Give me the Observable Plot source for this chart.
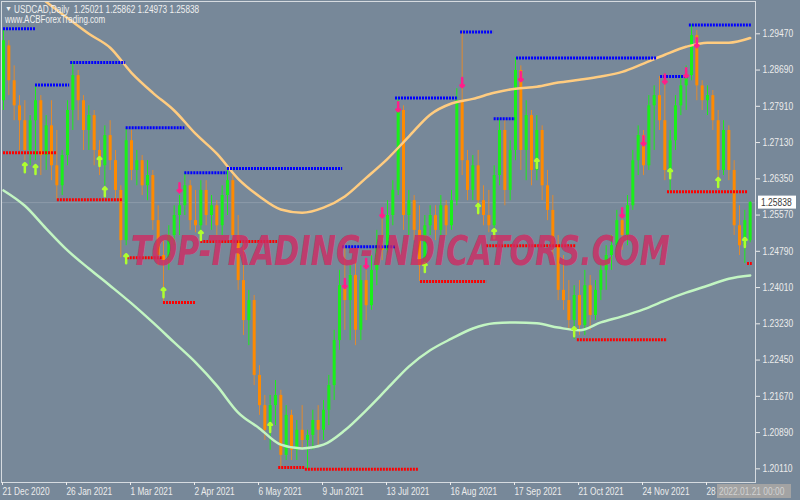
<!DOCTYPE html>
<html><head><meta charset="utf-8">
<script src="https://cdn.jsdelivr.net/npm/d3@7"></script>
<script src="https://cdn.jsdelivr.net/npm/@observablehq/plot@0.6"></script>
<style>html,body{margin:0;padding:0;background:#778899;overflow:hidden}#chart{width:800px;height:500px}</style>
</head><body><div id="chart"></div>
<script>
// Daily USDCAD candles (bar index = array index)
const openP = [
1.2803,1.2921,1.2846,1.2792,1.2760,1.2696,1.2760,1.2803,1.2685,1.2749,
1.2663,1.2620,1.2685,1.2782,1.2857,1.2803,1.2739,1.2771,1.2696,1.2663,
1.2728,1.2674,1.2610,1.2502,1.2717,1.2653,1.2674,1.2620,1.2642,1.2545,
1.2470,1.2459,1.2513,1.2556,1.2577,1.2620,1.2545,1.2534,1.2610,1.2556,
1.2577,1.2534,1.2599,1.2631,1.2513,1.2416,1.2330,1.2373,1.2212,1.2147,
1.2094,1.2147,1.2169,1.2040,1.2126,1.2051,1.2094,1.2072,1.2083,1.2115,
1.2094,1.2137,1.2190,1.2287,1.2405,1.2373,1.2427,1.2309,1.2416,1.2362,
1.2438,1.2491,1.2481,1.2556,1.2610,1.2782,1.2556,1.2588,1.2524,1.2448,
1.2534,1.2556,1.2524,1.2577,1.2534,1.2588,1.2803,1.2674,1.2610,1.2663,
1.2588,1.2556,1.2534,1.2642,1.2739,1.2610,1.2696,1.2868,1.2696,1.2771,
1.2653,1.2739,1.2620,1.2567,1.2491,1.2395,1.2373,1.2330,1.2384,1.2319,
1.2405,1.2341,1.2395,1.2438,1.2470,1.2491,1.2545,1.2513,1.2577,1.2674,
1.2728,1.2663,1.2792,1.2814,1.2760,1.2653,1.2717,1.2792,1.2835,1.2857,
1.2943,1.2835,1.2803,1.2814,1.2760,1.2653,1.2739,1.2653,1.2534,1.2491,
1.25021];
const highP = [
1.2958,1.2932,1.2878,1.2814,1.2803,1.2771,1.2835,1.2814,1.2771,1.2803,
1.2739,1.2696,1.2803,1.2885,1.2868,1.2814,1.2792,1.2782,1.2717,1.2749,
1.2760,1.2696,1.2620,1.2743,1.2739,1.2696,1.2685,1.2674,1.2653,1.2577,
1.2502,1.2534,1.2577,1.2599,1.2648,1.2631,1.2610,1.2631,1.2631,1.2599,
1.2588,1.2620,1.2657,1.2642,1.2556,1.2502,1.2395,1.2384,1.2233,1.2169,
1.2169,1.2201,1.2180,1.2147,1.2137,1.2115,1.2147,1.2094,1.2137,1.2147,
1.2158,1.2212,1.2309,1.2438,1.2489,1.2448,1.2459,1.2448,1.2438,1.2470,
1.2524,1.2549,1.2588,1.2631,1.2809,1.2792,1.2610,1.2599,1.2577,1.2556,
1.2577,1.2577,1.2599,1.2588,1.2610,1.2829,1.2951,1.2696,1.2685,1.2696,
1.2620,1.2610,1.2663,1.2764,1.2760,1.2717,1.2895,1.2878,1.2803,1.2782,
1.2771,1.2749,1.2653,1.2599,1.2513,1.2470,1.2416,1.2405,1.2416,1.2438,
1.2427,1.2416,1.2459,1.2491,1.2513,1.2567,1.2556,1.2599,1.2696,1.2749,
1.2739,1.2814,1.2835,1.2855,1.2840,1.2739,1.2814,1.2857,1.2878,1.2966,
1.2954,1.2846,1.2835,1.2825,1.2782,1.2760,1.2749,1.2674,1.2577,1.2567,
1.25862];
const lowP = [
1.2782,1.2814,1.2760,1.2696,1.2674,1.2663,1.2674,1.2642,1.2653,1.2631,
1.2590,1.2599,1.2663,1.2739,1.2760,1.2696,1.2696,1.2663,1.2642,1.2620,
1.2653,1.2588,1.2465,1.2491,1.2631,1.2620,1.2599,1.2588,1.2524,1.2448,
1.2369,1.2438,1.2491,1.2513,1.2556,1.2524,1.2519,1.2500,1.2534,1.2524,
1.2513,1.2513,1.2556,1.2481,1.2395,1.2298,1.2276,1.2190,1.2126,1.2072,
1.2051,1.2104,1.2014,1.2029,1.2029,1.2029,1.2051,1.2010,1.2051,1.2061,
1.2072,1.2104,1.2158,1.2266,1.2309,1.2287,1.2276,1.2287,1.2330,1.2352,
1.2405,1.2459,1.2470,1.2534,1.2599,1.2524,1.2513,1.2502,1.2414,1.2438,
1.2513,1.2502,1.2513,1.2513,1.2524,1.2577,1.2642,1.2588,1.2588,1.2556,
1.2534,1.2519,1.2519,1.2620,1.2577,1.2588,1.2674,1.2653,1.2631,1.2620,
1.2631,1.2588,1.2545,1.2470,1.2373,1.2352,1.2309,1.2289,1.2298,1.2298,
1.2309,1.2330,1.2373,1.2395,1.2438,1.2470,1.2481,1.2491,1.2567,1.2642,
1.2642,1.2653,1.2696,1.2739,1.2631,1.2607,1.2696,1.2771,1.2782,1.2846,
1.2803,1.2782,1.2771,1.2739,1.2620,1.2642,1.2631,1.2513,1.2470,1.2453,
1.24973];
const closeP = [
1.2932,1.2846,1.2792,1.2760,1.2696,1.2760,1.2803,1.2685,1.2749,1.2663,
1.2620,1.2685,1.2782,1.2857,1.2803,1.2739,1.2771,1.2696,1.2663,1.2728,
1.2674,1.2610,1.2502,1.2717,1.2653,1.2674,1.2620,1.2642,1.2545,1.2470,
1.2459,1.2513,1.2556,1.2577,1.2620,1.2545,1.2534,1.2610,1.2556,1.2577,
1.2534,1.2599,1.2631,1.2513,1.2416,1.2330,1.2373,1.2212,1.2147,1.2094,
1.2147,1.2169,1.2040,1.2126,1.2051,1.2094,1.2072,1.2083,1.2115,1.2094,
1.2137,1.2190,1.2287,1.2405,1.2373,1.2427,1.2309,1.2416,1.2362,1.2438,
1.2491,1.2481,1.2556,1.2610,1.2782,1.2556,1.2588,1.2524,1.2448,1.2534,
1.2556,1.2524,1.2577,1.2534,1.2588,1.2803,1.2674,1.2610,1.2663,1.2588,
1.2556,1.2534,1.2642,1.2739,1.2610,1.2696,1.2868,1.2696,1.2771,1.2653,
1.2739,1.2620,1.2567,1.2491,1.2395,1.2373,1.2330,1.2384,1.2319,1.2405,
1.2341,1.2395,1.2438,1.2470,1.2491,1.2545,1.2513,1.2577,1.2674,1.2728,
1.2663,1.2792,1.2814,1.2760,1.2653,1.2717,1.2792,1.2835,1.2857,1.2943,
1.2835,1.2803,1.2814,1.2760,1.2653,1.2739,1.2653,1.2534,1.2491,1.2545,
1.25838];

// Moving averages, read at every 4th bar
const maBars = [0,4,8,12,16,20,24,28,32,36,40,44,48,52,56,60,64,68,72,76,80,84,88,92,96,100,104,108,112,116,120,124,128,132,136,140];
const slowMA = [1.3091,1.3055,1.3016,1.2981,1.2947,1.2917,1.2863,1.2820,1.2782,1.2732,1.2689,1.2635,1.2597,1.2569,1.2562,1.2573,1.2597,1.2637,1.2678,1.2726,1.2773,1.2797,1.2807,1.2820,1.2829,1.2833,1.2842,1.2848,1.2855,1.2865,1.2883,1.2902,1.2919,1.2928,1.2928,1.2938];
const fastMA = [1.2610,1.2577,1.2528,1.2481,1.2442,1.2405,1.2367,1.2326,1.2283,1.2240,1.2190,1.2132,1.2098,1.2063,1.2055,1.2063,1.2094,1.2137,1.2184,1.2231,1.2266,1.2291,1.2313,1.2324,1.2326,1.2324,1.2315,1.2309,1.2326,1.2339,1.2354,1.2373,1.2390,1.2405,1.2420,1.2427];

// Resistance (blue) and support (red) levels
const resStart = [0,6,12.6,23,34,42,63.6,73.5,85.7,92,96.2,123.2,128.6];
const resEnd   = [6,12.4,22.9,34,42,63.6,73.5,85.1,91.9,96,122.6,128.4,140.4];
const resLevel = [1.2958,1.2837,1.2885,1.2745,1.2648,1.2657,1.2489,1.2809,1.2951,1.2764,1.2895,1.2855,1.2966];
const supStart = [0,10.1,23.2,30,37,51.6,56.6,78.2,90.6,107.6,124.5,139.5];
const supEnd   = [10,22.3,30,36,51.4,56.6,77.8,90.6,107.3,124.5,139.5,140.4];
const supLevel = [1.2691,1.2590,1.2465,1.2369,1.2500,1.2014,1.2010,1.2414,1.2491,1.2289,1.2607,1.2453];

// Signal arrows
const upBars = [4,6,18,19,23,30,37,50,79,89,92,100,107,125,134,139];
const upPrice = [1.2659,1.2655,1.2672,1.2607,1.2463,1.2390,1.2513,1.2100,1.2444,1.2571,1.2517,1.2668,1.2306,1.2646,1.2627,1.2498];
const downBars = [33,64,68,71,74,86,97,116,120,124,128,130];
const downPrice = [1.2616,1.2410,1.2453,1.2562,1.2790,1.2842,1.2855,1.2562,1.2717,1.2850,1.2863,1.2928];

// Axes and texts
const tickBars = [0,12,24,36,48,60,72,84,96,108,120,132];
const tickLabels = ["21 Dec 2020","26 Jan 2021","1 Mar 2021","2 Apr 2021","6 May 2021","9 Jun 2021","13 Jul 2021","16 Aug 2021","17 Sep 2021","21 Oct 2021","24 Nov 2021","28"];
const priceTicks = [1.20110,1.20890,1.21670,1.22450,1.23230,1.24010,1.24790,1.25570,1.26350,1.27130,1.27910,1.28690,1.29470];
const headerText = "USDCAD,Daily  1.25021 1.25862 1.24973 1.25838";
const siteText = "www.ACBForexTrading.com";
const watermark = "TOP-TRADING-INDICATORS.COM";
const serverTime = "2022.01.21 00:00";

const candles = openP.map((o, i) => ({i, o, h: highP[i], l: lowP[i], c: closeP[i]}));
const upC = candles.filter(d => d.c >= d.o);
const dnC = candles.filter(d => d.c < d.o);
const maData = maBars.map((b, k) => ({b, slow: slowMA[k], fast: fastMA[k]}));
const res = resLevel.map((v, k) => ({v, s: resStart[k], e: resEnd[k]}));
const sup = supLevel.map((v, k) => ({v, s: supStart[k], e: supEnd[k]}));
const ups = upBars.map((b, k) => ({b, p: upPrice[k]}));
const downs = downBars.map((b, k) => ({b, p: downPrice[k]}));
const lastClose = closeP[closeP.length - 1];

const UP = "#19f019", DN = "#ff8a00";
const font = "'Liberation Sans',Arial,sans-serif";

const plot = Plot.plot({
  width: 800, height: 500,
  marginTop: 1, marginLeft: 1, marginRight: 45, marginBottom: 18,
  style: {background: "#778899", color: "#ececec", fontFamily: font, fontSize: "10px"},
  x: {type: "linear", domain: [-0.375, 141], label: null},
  y: {type: "linear", domain: [1.19816, 1.30165], label: null},
  marks: [
    Plot.ruleY([lastClose], {stroke: "#8d9aa9", strokeWidth: 1}),
    Plot.ruleX(upC, {x: "i", y1: "l", y2: "h", stroke: UP, strokeWidth: 1}),
    Plot.ruleX(dnC, {x: "i", y1: "l", y2: "h", stroke: "#e08a30", strokeWidth: 1}),
    Plot.ruleX(upC, {x: "i", y1: "o", y2: "c", stroke: UP, strokeWidth: 3}),
    Plot.ruleX(dnC, {x: "i", y1: "o", y2: "c", stroke: DN, strokeWidth: 3}),
    Plot.line(maData, {x: "b", y: "slow", stroke: "#ffcc80", strokeWidth: 2.5, curve: "monotone-x", clip: true}),
    Plot.line(maData, {x: "b", y: "fast", stroke: "#c2f5c2", strokeWidth: 2.5, curve: "monotone-x", clip: true}),
    Plot.ruleY(res, {y: "v", x1: "s", x2: "e", stroke: "#0000ff", strokeWidth: 3, strokeDasharray: "2,1"}),
    Plot.ruleY(sup, {y: "v", x1: "s", x2: "e", stroke: "#ff0000", strokeWidth: 3, strokeDasharray: "2,1"}),
    Plot.vector(ups, {x: "b", y: "p", length: 9, rotate: 0, anchor: "middle", stroke: "#adff2f", strokeWidth: 2.5}),
    Plot.vector(downs, {x: "b", y: "p", length: 9, rotate: 180, anchor: "middle", stroke: "#ff1f8a", strokeWidth: 2.5}),
    Plot.frame({stroke: "#d6dbe0"}),
    Plot.axisY(priceTicks, {anchor: "right", tickFormat: d => d.toFixed(5), tickSize: 4, tickPadding: 3, label: null}),
    Plot.axisX(tickBars, {anchor: "bottom", tickFormat: d => tickLabels[tickBars.indexOf(d)], tickSize: 3, tickPadding: 2, textAnchor: "start", dx: -1, label: null})
  ]
});

document.getElementById("chart").appendChild(plot);
const svg = d3.select(plot);
const py = plot.scale("y").apply(lastClose);

function condense(sel, f) {
  sel.each(function() {
    const L = this.getComputedTextLength();
    if (L > 0) { this.setAttribute("textLength", (L * f).toFixed(1)); this.setAttribute("lengthAdjust", "spacingAndGlyphs"); }
  });
}

// watermark: font size chosen so its natural width is 539px, then stretched vertically
const wm = svg.append("text").attr("x", 0).attr("y", 0).attr("text-anchor", "start")
  .attr("font-family", "'DejaVu Sans',sans-serif").attr("font-weight", "bold").attr("font-style", "italic")
  .attr("font-size", 40).attr("fill", "#d22961").attr("fill-opacity", 0.8).text(watermark);
const wL = wm.node().getComputedTextLength();
const s = 539 / wL;
wm.attr("font-size", (40 * s).toFixed(2)).attr("transform", `translate(131,265) scale(1,${(1 / s).toFixed(3)})`);

// header
svg.append("text").attr("x", 5).attr("y", 9).attr("dy", "0.35em").attr("text-anchor", "start")
  .attr("font-size", 7).attr("fill", "#f0f0f0").text("▼");
const h1 = svg.append("text").attr("x", 14).attr("y", 9).attr("dy", "0.35em").attr("text-anchor", "start")
  .attr("font-size", 10).attr("fill", "#f0f0f0").style("white-space", "pre").text(headerText);
const h2 = svg.append("text").attr("x", 5).attr("y", 19).attr("dy", "0.35em").attr("text-anchor", "start")
  .attr("font-size", 10).attr("fill", "#f0f0f0").text(siteText);
// last price box
svg.append("rect").attr("x", 758).attr("y", py - 6.5).attr("width", 38).attr("height", 13).attr("fill", "#ffffff");
const pt = svg.append("text").attr("x", 761).attr("y", py).attr("dy", "0.35em").attr("text-anchor", "start")
  .attr("fill", "#3a3a3a").attr("font-size", 10).text(lastClose.toFixed(5));
// server time box
svg.append("rect").attr("x", 717).attr("y", 484).attr("width", 74).attr("height", 14).attr("fill", "#a3a3a3");
const st = svg.append("text").attr("x", 719).attr("y", 491).attr("dy", "0.35em").attr("text-anchor", "start")
  .attr("fill", "#d2d2d2").attr("font-size", 10).text(serverTime);

condense(svg.selectAll("g[aria-label='y-axis tick label'] text"), 0.85);
condense(svg.selectAll("g[aria-label='x-axis tick label'] text"), 0.83);
condense(h1, 0.82); condense(h2, 0.8); condense(pt, 0.85); condense(st, 0.84);
</script></body></html>
